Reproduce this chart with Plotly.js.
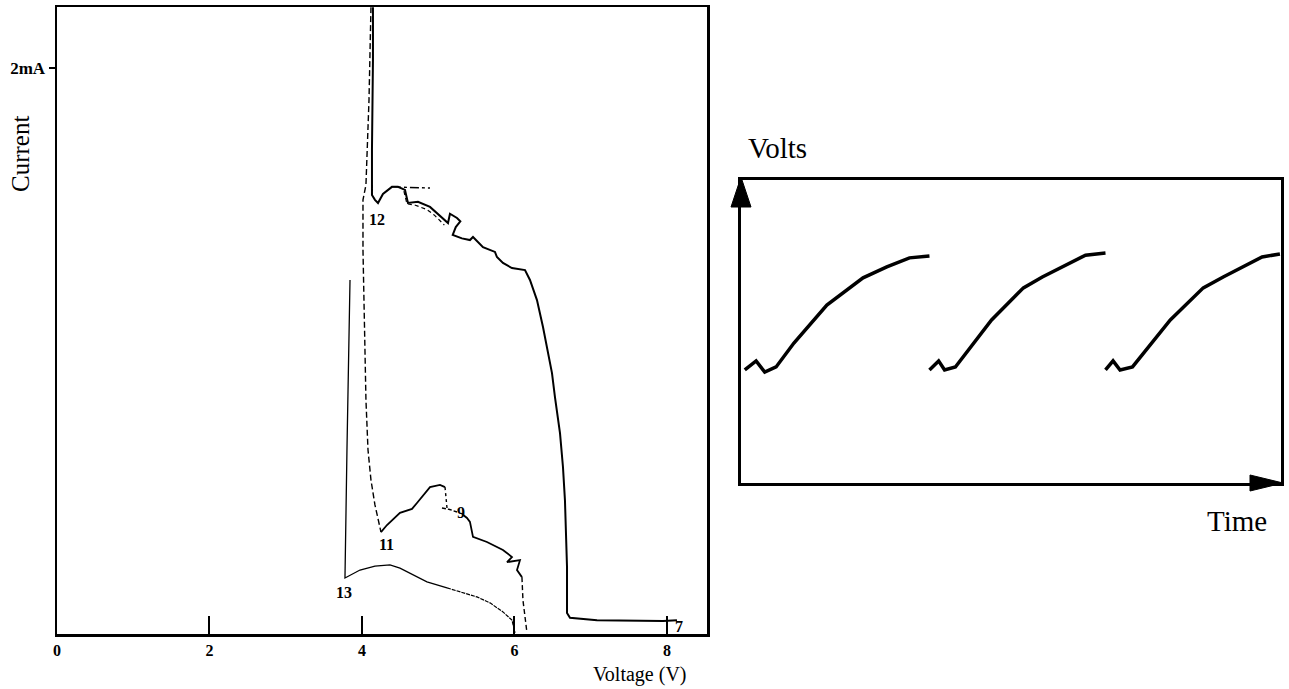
<!DOCTYPE html>
<html><head><meta charset="utf-8">
<script src="https://cdn.plot.ly/plotly-3.0.1.min.js"></script>
<style>html,body{margin:0;padding:0;background:#fff}</style>
</head><body>
<div id="chart" style="width:1289px;height:689px"></div>
<script>
// ---- Left chart: current (mA) vs voltage (V) ----
// upper solid branch (spike, point 12, plateau, fall to ~0 at 6.7 V)
const mainV = [4.144,4.144,4.131,4.131,4.170,4.210,4.275,4.393,4.472,4.564,4.603,4.734,4.892,4.984,5.128,5.154,5.246,5.290,5.230,5.190,5.311,5.416,5.456,5.587,5.744,5.770,5.849,5.967,6.138,6.203,6.295,6.374,6.439,6.492,6.531,6.597,6.636,6.662,6.689,6.689,6.728,7.082,7.948,8.131];
const mainI = [2.215,2.028,1.710,1.551,1.534,1.523,1.555,1.580,1.580,1.569,1.523,1.527,1.509,1.488,1.452,1.485,1.470,1.458,1.438,1.410,1.398,1.392,1.403,1.367,1.350,1.332,1.311,1.293,1.286,1.251,1.180,1.085,0.993,0.922,0.837,0.710,0.590,0.473,0.237,0.074,0.057,0.049,0.046,0.049];
// dashed return branch from the spike down to point 11
const dashV = [4.118,4.092,4.052,4.013,4.013,4.026,4.039,4.052,4.079,4.118,4.170,4.249];
const dashI = [2.215,1.887,1.587,1.534,1.357,1.180,0.933,0.827,0.650,0.544,0.456,0.360];
// dash-dot plateau pieces near point 12
const plateauV = [4.393,4.472,4.603,4.892];
const plateauI = [1.580,1.580,1.578,1.576];
const plateau2V = [4.550,4.590,4.700,4.850,4.950,5.080];
const plateau2I = [1.565,1.520,1.515,1.500,1.480,1.445];
// branch 11 -> 9
const b11V = [4.249,4.328,4.498,4.656,4.721,4.826,4.892,5.023,5.089];
const b11I = [0.360,0.385,0.428,0.442,0.463,0.498,0.519,0.527,0.519];
const b11dV = [5.089,5.102,5.115];
const b11dI = [0.519,0.473,0.445];
const b9dV = [5.049,5.150,5.246];
const b9dI = [0.445,0.440,0.431];
const b9V = [5.311,5.377,5.416,5.456,5.639,5.849,5.967,5.902,6.072,6.033,6.098];
const b9I = [0.424,0.410,0.396,0.343,0.325,0.297,0.272,0.254,0.261,0.226,0.201];
const b9eV = [6.098,6.111,6.164];
const b9eI = [0.201,0.120,0.004];
// branch 13
const b13V = [3.843,3.830,3.803,3.777,3.974,4.170,4.367,4.498,4.852,5.115];
const b13I = [1.251,1.004,0.650,0.198,0.226,0.240,0.244,0.233,0.184,0.163];
const b13eV = [5.115,5.508,5.679,5.849,5.967,6.007];
const b13eI = [0.163,0.131,0.110,0.078,0.049,0.004];
// point labels
const ptLabels = ['12','11','9','13','7'];
const ptV = [4.197,4.315,5.298,3.764,8.157];
const ptI = [1.466,0.318,0.428,0.148,0.025];
const xTicks = [0,2,4,6,8];
const xTickText = ['0','2','4','6','8'];
const yTicks = [2];
const yTickText = ['2mA'];

// ---- Right chart: sawtooth-like volts vs time ----
const seg1T = [0.07,0.28,0.44,0.65,0.98,1.59,2.26,2.70,3.12,3.49];
const seg1V = [3.73,4.03,3.66,3.83,4.62,5.87,6.77,7.13,7.43,7.49];
const seg2T = [3.49,3.66,3.77,3.97,4.64,5.23,5.58,6.38,6.75];
const seg2V = [3.73,4.03,3.73,3.83,5.38,6.44,6.80,7.52,7.59];
const seg3T = [6.75,6.89,7.02,7.25,7.95,8.56,8.93,9.65,9.98];
const seg3V = [3.73,4.03,3.73,3.83,5.38,6.44,6.80,7.46,7.56];

const black = '#000';
function tr(x, y, w, dash, xa, ya) {
  return {x: x, y: y, type: 'scatter', mode: 'lines', xaxis: xa || 'x', yaxis: ya || 'y',
          line: {color: black, width: w, dash: dash || 'solid'}, hoverinfo: 'skip', showlegend: false};
}
const data = [
  tr(mainV, mainI, 2),
  tr(dashV, dashI, 1.4, '6px,3px'),
  tr(plateauV, plateauI, 1.4, 'dashdot'),
  tr(plateau2V, plateau2I, 1.2, '4px,3px'),
  tr(b11V, b11I, 1.8),
  tr(b11dV, b11dI, 1.4, '3px,3px'),
  tr(b9dV, b9dI, 1.4, '4px,2px'),
  tr(b9V, b9I, 1.8),
  tr(b9eV, b9eI, 1.4, '5px,3px'),
  tr(b13V, b13I, 1.3),
  tr(b13eV, b13eI, 1.2, '4px,1px'),
  tr(seg1T, seg1V, 3.5, 'solid', 'x2', 'y2'),
  tr(seg2T, seg2V, 3.5, 'solid', 'x2', 'y2'),
  tr(seg3T, seg3V, 3.5, 'solid', 'x2', 'y2')
];

const serif = 'Liberation Serif, Times New Roman, serif';
const annotations = ptLabels.map((t, i) => ({
  x: ptV[i], y: ptI[i], xref: 'x', yref: 'y', text: '<b>' + t + '</b>', showarrow: false,
  xanchor: 'center', yanchor: 'middle',
  font: {family: serif, size: 16, color: black}
}));
function lab(text, px, py, size, angle) {
  return {x: px/1289, y: 1 - py/689, xref: 'paper', yref: 'paper', text: text, textangle: angle || 0,
          xanchor: 'center', yanchor: 'middle', showarrow: false,
          font: {family: serif, size: size, color: black}};
}
annotations.push(
  lab('Current', 20, 154, 25, -90),
  lab('Voltage (V)', 640, 674, 20),
  lab('Volts', 777, 148, 29),
  lab('Time', 1237, 521, 29)
);

const shapes = [
  {type: 'path', xref: 'paper', yref: 'paper', fillcolor: black, line: {color: black, width: 1},
   path: 'M ' + (741/1289) + ' ' + (1-177/689) + ' L ' + (731/1289) + ' ' + (1-207/689) + ' L ' + (751/1289) + ' ' + (1-207/689) + ' Z'},
  {type: 'path', xref: 'paper', yref: 'paper', fillcolor: black, line: {color: black, width: 1},
   path: 'M ' + (1283/1289) + ' ' + (1-483/689) + ' L ' + (1250/1289) + ' ' + (1-475/689) + ' L ' + (1250/1289) + ' ' + (1-491/689) + ' Z'}
];

const layout = {
  width: 1289, height: 689,
  margin: {l: 0, r: 0, t: 0, b: 0},
  paper_bgcolor: '#fff', plot_bgcolor: '#fff',
  showlegend: false,
  xaxis: {domain: [57/1289, 707/1289], range: [0, 8.525], tickvals: xTicks, ticktext: xTickText.map(t => '<b>' + t + '</b>'),
          ticks: 'inside', ticklen: 18, tickwidth: 2, tickcolor: black, showline: true, mirror: true,
          linewidth: 2.5, linecolor: black, showgrid: false, zeroline: false, fixedrange: true,
          tickfont: {family: serif, size: 16, color: black}, anchor: 'y'},
  yaxis: {domain: [1 - 634/689, 1 - 7/689], range: [0, 2.2155], tickvals: yTicks, ticktext: yTickText.map(t => '<b>' + t + '</b>'),
          ticks: 'outside', ticklen: 6, tickwidth: 2, tickcolor: black, showline: true, mirror: true,
          linewidth: 2.5, linecolor: black, showgrid: false, zeroline: false, fixedrange: true,
          tickfont: {family: serif, size: 17, color: black}, anchor: 'x'},
  xaxis2: {domain: [741/1289, 1281/1289], range: [0, 10], showticklabels: false, ticks: '',
           showline: true, mirror: true, linewidth: 3, linecolor: black, showgrid: false, zeroline: false, anchor: 'y2'},
  yaxis2: {domain: [1 - 483/689, 1 - 180/689], range: [0, 10], showticklabels: false, ticks: '',
           showline: true, mirror: true, linewidth: 3, linecolor: black, showgrid: false, zeroline: false, anchor: 'x2'},
  annotations: annotations,
  shapes: shapes
};
Plotly.newPlot('chart', data, layout, {staticPlot: true, displayModeBar: false});
</script>
</body></html>
